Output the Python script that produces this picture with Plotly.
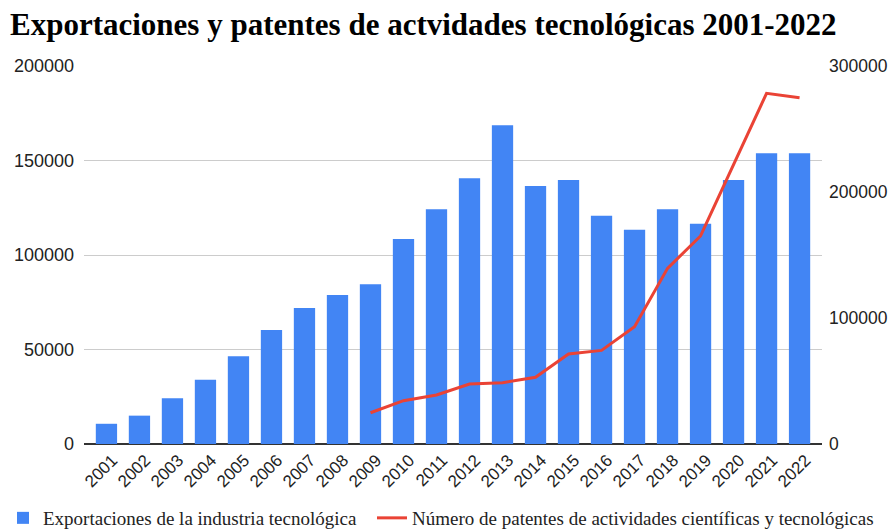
import plotly.graph_objects as go

years = [str(y) for y in range(2001, 2023)]
exportaciones = [10700, 15000, 24200, 34000, 46400, 60300, 72000, 78800, 84500, 108500,
                 124200, 140600, 168600, 136500, 139700, 120800, 113400, 124200, 116600,
                 139700, 153800, 153800]
patente_years = [str(y) for y in range(2009, 2023)]
patentes = [24800, 34400, 38900, 47600, 48700, 52900, 71400, 74300, 93100, 139400,
            165100, 222200, 278300, 274800]

left_ticks = [0, 50000, 100000, 150000, 200000]
right_ticks = [0, 100000, 200000, 300000]

# page body has an 8px margin: figure is drawn at (8, 8)
W, H = 880, 524
L, R, T, B = 76, 66, 58, 88
PW = W - L - R

fig = go.Figure()
fig.add_trace(go.Bar(x=years, y=exportaciones, name="Exportaciones de la industria tecnológica",
                     marker=dict(color="#4285f4", line=dict(width=0)), yaxis="y", legend="legend"))
fig.add_trace(go.Scatter(x=patente_years, y=patentes, mode="lines",
                         name="Número de patentes de actividades científicas y tecnológicas",
                         line=dict(color="#ea4335", width=3), yaxis="y2", legend="legend2"))

legend_font = dict(family="Liberation Serif", size=19, color="#222")

fig.update_layout(
    width=W, height=H,
    margin=dict(l=L, r=R, t=T, b=B, autoexpand=False),
    paper_bgcolor="white", plot_bgcolor="white",
    bargap=0.355,
    title=dict(text="<b>Exportaciones y patentes de actvidades tecnológicas 2001-2022</b>",
               font=dict(family="Liberation Serif", size=31, color="#000"),
               x=2 / W, xanchor="left", xref="container",
               y=1 - 16 / H, yanchor="middle", yref="container"),
    xaxis=dict(type="category", range=[-0.68, 21.68], tickangle=-45,
               tickfont=dict(family="Liberation Sans", size=17, color="#222"),
               ticklabelshift=6, ticklabelstandoff=2,
               showgrid=False, showline=False, ticks="", automargin=False),
    yaxis=dict(range=[0, 200000], tickvals=left_ticks, ticktext=[str(v) for v in left_ticks],
               tickfont=dict(family="Liberation Sans", size=18, color="#222"),
               gridcolor="#cccccc", zeroline=True, zerolinecolor="#333", zerolinewidth=1.5,
               ticks="", automargin=False, ticklabelstandoff=9),
    yaxis2=dict(range=[0, 300000], tickvals=right_ticks, ticktext=[str(v) for v in right_ticks],
                overlaying="y", side="right", showgrid=False, zeroline=False, automargin=False,
                ticklabelstandoff=6,
                tickfont=dict(family="Liberation Sans", size=17.5, color="#222")),
    legend=dict(orientation="h", x=(-5 - L) / PW, xanchor="left", xref="paper",
                y=1 - 510 / H, yanchor="middle", yref="container", font=legend_font),
    legend2=dict(orientation="h", x=(364 - L) / PW, xanchor="left", xref="paper",
                 y=1 - 510 / H, yanchor="middle", yref="container", font=legend_font),
    showlegend=True,
)

fig.write_html("out.html")
